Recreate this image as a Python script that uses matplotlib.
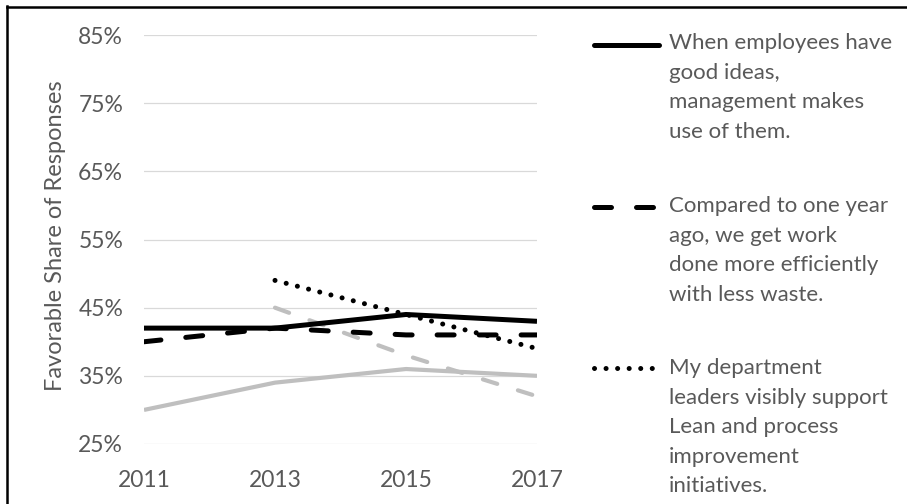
import matplotlib.pyplot as plt
from matplotlib.lines import Line2D

# Survey years and favorable share (%) per question
years = [2011, 2013, 2015, 2017]
ideas_used = [42, 42, 44, 43]
more_efficient = [40, 42, 41, 41]
leaders_support = [None, 49, 44, 39]
ideas_used_gray = [30, 34, 36, 35]
efficient_gray = [None, 45, 38, 32]

legend_labels = [
    'When employees have\ngood ideas,\nmanagement makes\nuse of them.',
    'Compared to one year\nago, we get work\ndone more efficiently\nwith less waste.',
    'My department\nleaders visibly support\nLean and process\nimprovement\ninitiatives.',
]
y_ticks = [25, 35, 45, 55, 65, 75, 85]

plt.rcParams['font.family'] = ['Lato', 'DejaVu Sans']
text_color = '#595959'
gray = '#BFBFBF'

W, H = 907, 504
fig = plt.figure(figsize=(W / 100, H / 100), dpi=100)
ax = fig.add_axes([144 / W, 1 - 444 / H, (537 - 144) / W, (444 - 35) / H])

def series(vals):
    pts = [(x, v) for x, v in zip(years, vals) if v is not None]
    return [p[0] for p in pts], [p[1] for p in pts]

dashed = (0, (3.4, 5.0))
dotted = (0, (0.01, 2.3))
lw_black = 3.6
lw_gray = 3.0

# gray series drawn first so the black ones sit on top
x, y = series(ideas_used_gray)
ax.plot(x, y, color=gray, lw=lw_gray, solid_capstyle='butt')
x, y = series(efficient_gray)
ax.plot(x, y, color=gray, lw=lw_gray, linestyle=(0, (3.6, 5.2)), dash_capstyle='round')

x, y = series(ideas_used)
ax.plot(x, y, color='black', lw=lw_black, solid_capstyle='butt')
x, y = series(more_efficient)
ax.plot(x, y, color='black', lw=lw_black, linestyle=dashed, dash_capstyle='round')
x, y = series(leaders_support)
ax.plot(x, y, color='black', lw=lw_black, linestyle=dotted, dash_capstyle='round')

ax.set_xlim(2011, 2017)
ax.set_ylim(25, 85)
ax.set_xticks(years)
ax.set_xticklabels([str(v) for v in years])
ax.set_yticks(y_ticks)
ax.set_yticklabels([f'{v}%' for v in y_ticks])
ax.grid(axis='y', color='#D9D9D9', lw=0.9)
ax.set_axisbelow(True)
for s in ax.spines.values():
    s.set_visible(False)
ax.tick_params(length=0, labelsize=16.5, colors=text_color)
ax.tick_params(axis='y', pad=15)
ax.tick_params(axis='x', pad=19)

fig.text(55 / W, 1 - 236 / H, 'Favorable Share of Responses', rotation=90,
         ha='center', va='center', fontsize=17, color=text_color)

# legend drawn by hand: sample line next to the first text row
styles = [
    dict(color='black', lw=lw_black, solid_capstyle='round'),
    dict(color='black', lw=lw_black, linestyle=dashed, dash_capstyle='round'),
    dict(color='black', lw=lw_black, linestyle=dotted, dash_capstyle='round'),
]
handle_y = [45, 207, 368]
text_top = [33, 196, 358]
for label, st, hy, ty in zip(legend_labels, styles, handle_y, text_top):
    fig.add_artist(Line2D([594 / W, 659 / W], [1 - hy / H, 1 - hy / H], **st))
    fig.text(669 / W, 1 - ty / H, label, ha='left', va='top', fontsize=16,
             color=text_color, linespacing=1.6)

# frame edges on the left and top
fig.add_artist(Line2D([6.5 / W, 6.5 / W], [0, 1 - 6 / H], color='black', lw=1.8))
fig.add_artist(Line2D([6.5 / W, 1], [1 - 7 / H, 1 - 7 / H], color='black', lw=1.8))

fig.savefig('out.png', dpi=100)
